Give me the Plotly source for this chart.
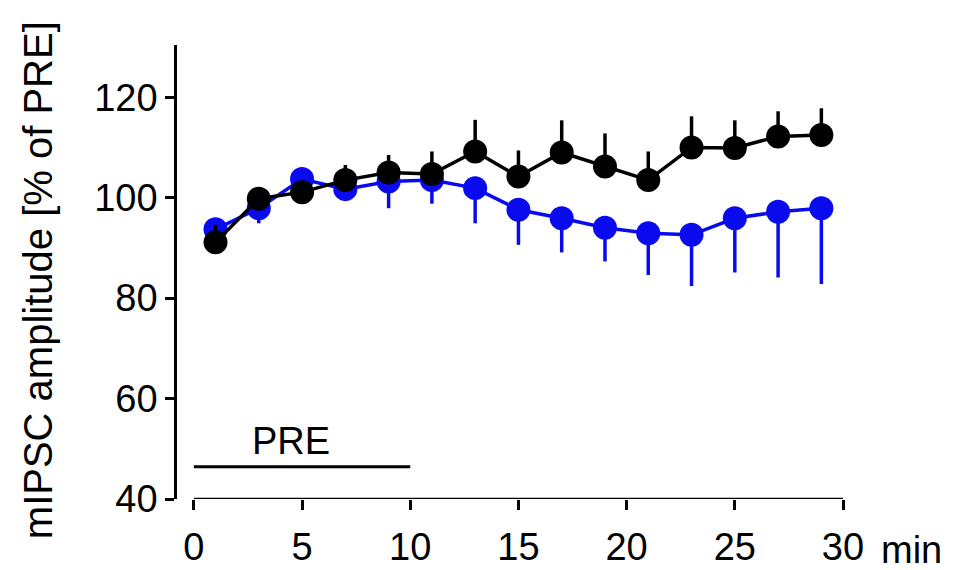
import plotly.graph_objects as go

time_min = [1, 3, 5, 7, 9, 11, 13, 15, 17, 19, 21, 23, 25, 27, 29]

black_mean = [91.1, 99.8, 101.1, 103.5, 105.0, 104.7, 109.2, 104.2, 109.0, 106.2, 103.5, 110.0, 109.9, 112.2, 112.5]
black_err_up = [3.5, 1.0, 1.0, 3.0, 3.5, 4.5, 6.3, 5.2, 6.4, 6.6, 5.7, 6.2, 5.5, 5.0, 5.3]

blue_mean = [93.7, 97.9, 103.7, 101.7, 103.2, 103.5, 101.9, 97.6, 95.9, 94.0, 92.9, 92.6, 95.9, 97.2, 97.9]
blue_err_down = [2.0, 3.0, 1.0, 1.0, 5.3, 4.7, 7.0, 7.0, 6.8, 6.7, 8.3, 10.2, 10.8, 13.1, 15.1]

x_ticks = [0, 5, 10, 15, 20, 25, 30]
y_ticks = [40, 60, 80, 100, 120]

pre_start, pre_end, pre_level = 0, 10, 46.4

FONT = "Liberation Sans, Arial, sans-serif"
BLUE = "#0a0aee"

fig = go.Figure()

fig.add_trace(go.Scatter(
    x=time_min, y=blue_mean, mode="lines+markers",
    line=dict(color=BLUE, width=3.5),
    marker=dict(color=BLUE, size=24),
    error_y=dict(type="data", symmetric=False,
                 array=[0] * len(blue_err_down), arrayminus=blue_err_down,
                 color=BLUE, thickness=3.5, width=0),
    cliponaxis=False, showlegend=False,
))

fig.add_trace(go.Scatter(
    x=time_min, y=black_mean, mode="lines+markers",
    line=dict(color="black", width=3.5),
    marker=dict(color="black", size=24),
    error_y=dict(type="data", symmetric=False,
                 array=black_err_up, arrayminus=[0] * len(black_err_up),
                 color="black", thickness=3.5, width=0),
    cliponaxis=False, showlegend=False,
))

# PRE period bar
fig.add_trace(go.Scatter(
    x=[pre_start, pre_end], y=[pre_level, pre_level], mode="lines",
    line=dict(color="black", width=3), hoverinfo="skip", showlegend=False,
))
fig.add_annotation(x=(pre_start + pre_end) / 2 - 0.5, y=pre_level, yshift=26,
                   text="PRE", showarrow=False, xanchor="center", yanchor="middle",
                   font=dict(family=FONT, size=38, color="black"))

# detached x-axis line (from 0 to 30)
fig.add_shape(type="line", xref="x", yref="y", x0=x_ticks[0], x1=x_ticks[-1],
              y0=y_ticks[0], y1=y_ticks[0], line=dict(color="black", width=2.5))

fig.add_annotation(xref="paper", yref="paper", x=1.0, y=0, xshift=36, yshift=-51,
                   text="min", showarrow=False, xanchor="left", yanchor="middle",
                   font=dict(family=FONT, size=38, color="black"))

fig.add_annotation(xref="paper", yref="paper", x=0, xshift=-139, y=0.482,
                   text="mIPSC amplitude [% of PRE]", textangle=-90, showarrow=False,
                   xanchor="center", yanchor="middle",
                   font=dict(family=FONT, size=40, color="black"))

fig.update_layout(
    width=954, height=570,
    margin=dict(l=177, r=111, t=45, b=71, autoexpand=False),
    paper_bgcolor="white", plot_bgcolor="white",
    font=dict(family=FONT, size=38, color="black"),
    xaxis=dict(range=[-0.78, 30], tickvals=x_ticks, ticks="outside", ticklen=10,
               tickwidth=2.5, tickcolor="black", showline=False, showgrid=False,
               zeroline=False, tickfont=dict(size=38), automargin=False,
               ticklabelstandoff=4),
    yaxis=dict(range=[40, 130.4], tickvals=y_ticks, ticks="outside", ticklen=9,
               tickwidth=2.5, tickcolor="black", showline=True, linewidth=2.5,
               linecolor="black", showgrid=False, zeroline=False,
               tickfont=dict(size=38), automargin=False),
)

fig.write_html("out.html")
